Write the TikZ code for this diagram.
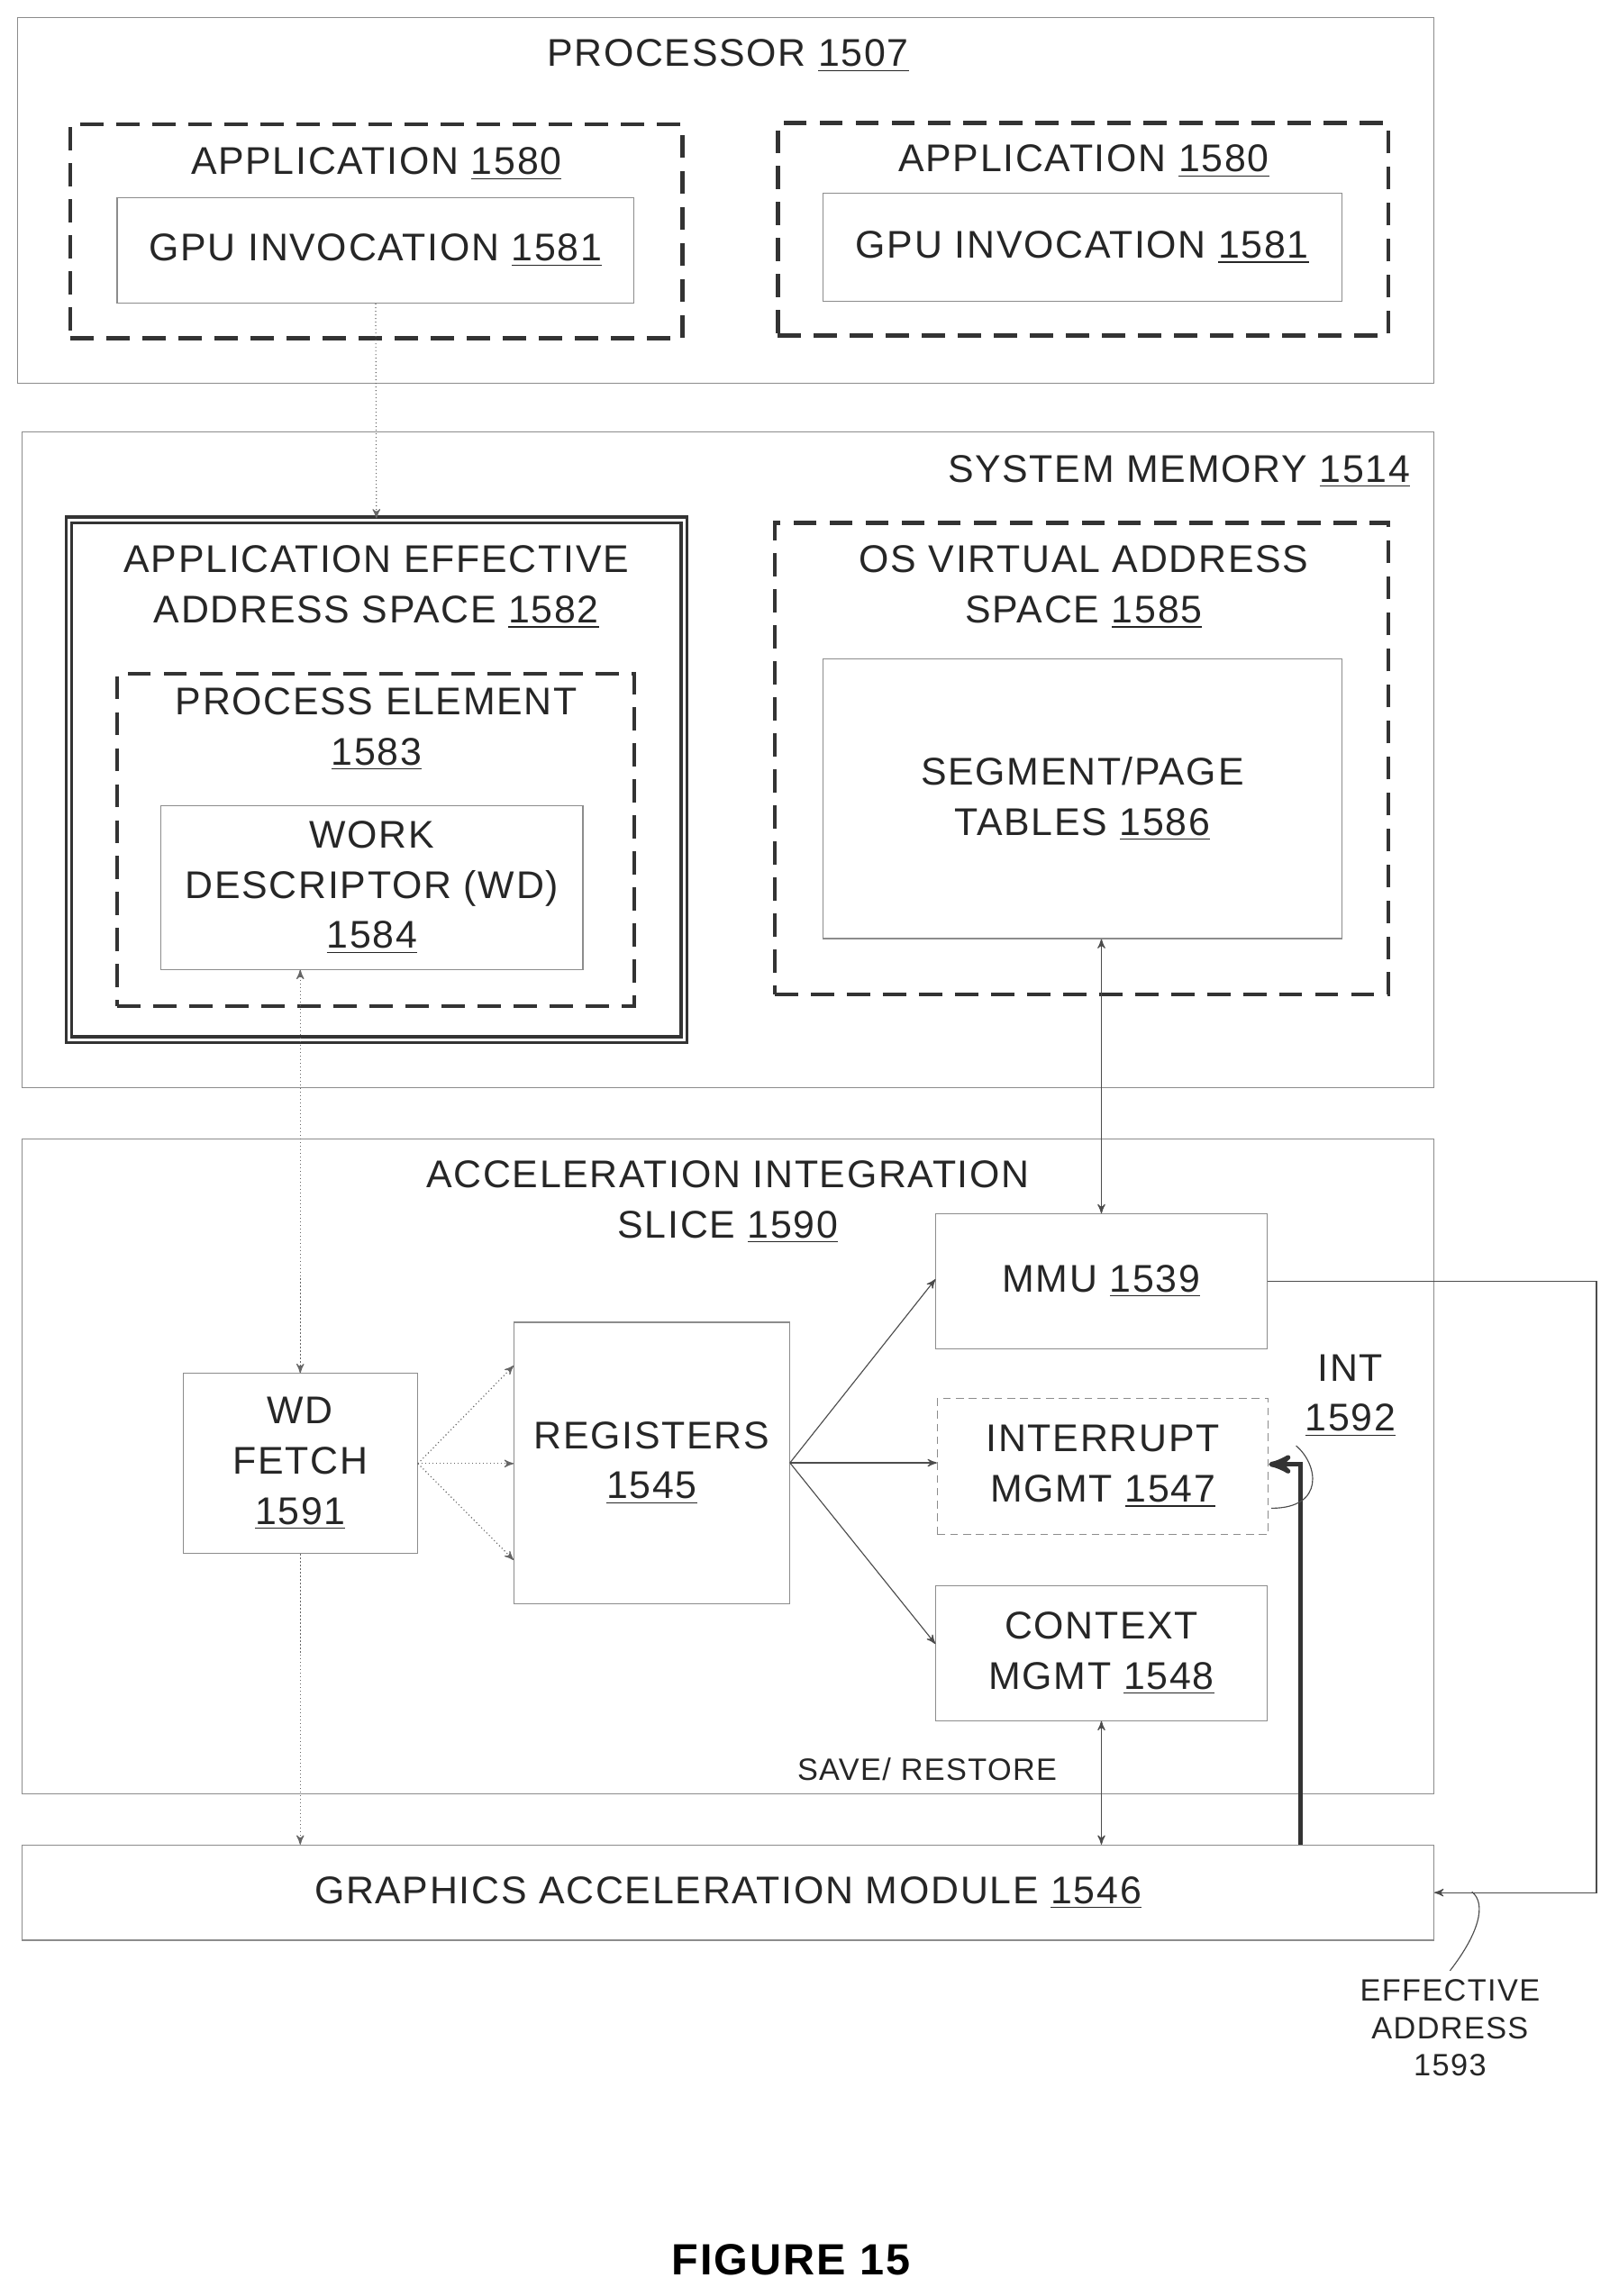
\documentclass[tikz,border=0pt]{standalone}
\usepackage{fontspec}
\setmainfont{Liberation Sans}[LetterSpace=4]
\usetikzlibrary{
	arrows,
	positioning,
	fit
}
\tikzset{
	>=stealth',
	plainbox/.style={draw=black!45, thin, inner sep=0pt},
	dashbox/.style={draw=black!80, line width=1.6pt, dash pattern=on 9pt off 5pt, inner sep=0pt},
	heavybox/.style={draw=black!80, double=white, double distance=1pt, line width=1.2pt, inner sep=0pt},
	label/.style={font=\fontsize{15}{19.5}\selectfont, text=black!85},
	smalllabel/.style={font=\fontsize{12}{14.5}\selectfont, text=black!85},
	dotlink/.style={draw=black!60, densely dotted, thin},
	link/.style={draw=black!70, thin}
}
\begin{document}
\begin{tikzpicture}[x=0.02cm, y=-0.02cm]
	\useasboundingbox (0,0) rectangle (1105,1568);

	% processor
	\node[plainbox, fit={(12,12) (979,262)}] (processor) {};
	\node[label] at (497,38) {PROCESSOR \underline{1507}};
	\node[dashbox, fit={(48,85) (466,231)}] (appA) {};
	\node[label] at (257,112) {APPLICATION \underline{1580}};
	\node[plainbox, fit={(80,135) (433,207)}] (gpuA) {};
	\node[label] at (gpuA) {GPU INVOCATION \underline{1581}};
	\node[dashbox, fit={(531,84) (948,229)}] (appB) {};
	\node[label] at (740,110) {APPLICATION \underline{1580}};
	\node[plainbox, fit={(562,132) (916,206)}] (gpuB) {};
	\node[label] at (gpuB) {GPU INVOCATION \underline{1581}};

	% system memory
	\node[plainbox, fit={(15,295) (979,743)}] (sysmem) {};
	\node[label] at (805,322) {SYSTEM MEMORY \underline{1514}};
	\node[heavybox, fit={(47,355) (467,710)}] (aeas) {};
	\node[label, align=center] at (257,401) {APPLICATION EFFECTIVE\\ADDRESS SPACE \underline{1582}};
	\node[dashbox, fit={(80,460) (433,687)}] (procelem) {};
	\node[label, align=center] at (257,498) {PROCESS ELEMENT\\\underline{1583}};
	\node[plainbox, fit={(110,550) (398,662)}] (wd) {};
	\node[label, align=center] at (wd) {WORK\\DESCRIPTOR (WD)\\\underline{1584}};
	\node[dashbox, fit={(529,357) (948,679)}] (osvas) {};
	\node[label, align=center] at (740,401) {OS VIRTUAL ADDRESS\\SPACE \underline{1585}};
	\node[plainbox, fit={(562,450) (916,641)}] (segtab) {};
	\node[label, align=center] at (segtab) {SEGMENT/PAGE\\TABLES \underline{1586}};

	% acceleration integration slice
	\node[plainbox, fit={(15,778) (979,1225)}] (ais) {};
	\node[label, align=center] at (497,821) {ACCELERATION INTEGRATION\\SLICE \underline{1590}};
	\node[plainbox, fit={(639,829) (865,921)}] (mmu) {};
	\node[label] at (mmu) {MMU \underline{1539}};
	\node[plainbox, densely dashed, fit={(640,955) (866,1048)}] (intmgmt) {};
	\node[label, align=center] at (intmgmt) {INTERRUPT\\MGMT \underline{1547}};
	\node[plainbox, fit={(639,1083) (865,1175)}] (ctxmgmt) {};
	\node[label, align=center] at (ctxmgmt) {CONTEXT\\MGMT \underline{1548}};
	\node[plainbox, fit={(351,903) (539,1095)}] (regs) {};
	\node[label, align=center] at (regs) {REGISTERS\\\underline{1545}};
	\node[plainbox, fit={(125,938) (285,1061)}] (wdfetch) {};
	\node[label, align=center] at (wdfetch) {WD\\FETCH\\\underline{1591}};
	\node[label, align=center] (intlabel) at (922,953) {INT\\\underline{1592}};
	\node[smalllabel] (savelabel) at (633,1208) {SAVE/ RESTORE};

	% graphics acceleration module
	\node[plainbox, fit={(15,1260) (979,1325)}] (gam) {};
	\node[label] at (gam) {GRAPHICS ACCELERATION MODULE \underline{1546}};
	\node[smalllabel, align=center] (efflabel) at (990,1385) {EFFECTIVE\\ADDRESS\\1593};
	\node[font=\bfseries\fontsize{17}{20}\selectfont] (figlabel) at (540,1543) {FIGURE 15};

	\coordinate (intbend) at (888,1000);
	\coordinate (effbend) at (1090,875);

	% connectors
	\draw[dotlink,->] (gpuA.south) -- (aeas.north);
	\draw[dotlink,<->] (wdfetch.north |- wd.south) -- (wdfetch.north);
	\draw[link,<->] (mmu.north |- segtab.south) -- (mmu.north);
	\draw[dotlink,->] (wdfetch.east) -- ([yshift=-0.6cm]regs.north west);
	\draw[dotlink,->] (wdfetch.east) -- (regs.west |- wdfetch.east);
	\draw[dotlink,->] (wdfetch.east) -- ([yshift=0.6cm]regs.south west);
	\draw[link,->] (regs.east) -- ([yshift=-0.9cm]mmu.north west);
	\draw[link,->] (regs.east) -- (intmgmt.west |- regs.east);
	\draw[link,->] (regs.east) -- ([yshift=-0.8cm]ctxmgmt.north west);
	\draw[dotlink,->] (wdfetch.south) -- (wdfetch.south |- gam.north);
	\draw[link,<->] (ctxmgmt.south) -- (ctxmgmt.south |- gam.north);
	\draw[black!80, line width=1.8pt, ->] (gam.north -| intbend) |- (intmgmt.east |- intbend);
	\draw[link,->] (mmu.east) -- (effbend) |- (gam.east);
	\draw[link] (intlabel.south west) .. controls (900,1000) and (905,1030) .. (868,1030);
	\draw[link] (efflabel.north) .. controls (1010,1320) and (1015,1300) .. (1005,1292);
\end{tikzpicture}
\end{document}
